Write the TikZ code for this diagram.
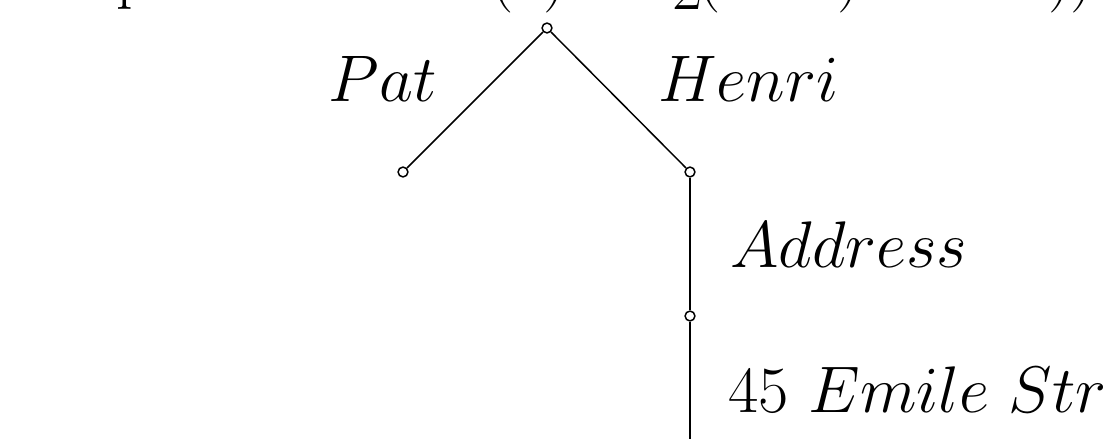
\RequirePackage{fix-cm}
\documentclass[tikz,border=0pt]{standalone}
\begin{document}
\begin{tikzpicture}[x=0.02cm,y=-0.02cm,
    vertex/.style={circle,draw,fill=white,inner sep=0pt,minimum size=5.6pt,line width=0.85pt},
    lbl/.style={inner sep=0pt,font=\fontsize{37.5}{45}\selectfont}]
  \useasboundingbox (0,0) rectangle (1103,439);
  % cut-off line above the tree
  \foreach \x/\b/\t in {116/-3/p, 490/-3.5/{(}, 543/-3.5/{)}, 672/10/2, 697/-3.5/{(}, 837/-3.5/{)}, 1048/-3.5/{)}, 1070/-3.5/{)}}
    \node[lbl,anchor=base west] at (\x,\b) {\t};
  % tree
  \node[vertex] (root) at (547,28) {};
  \node[vertex] (pat) at (403,172) {};
  \node[vertex] (henri) at (690,172) {};
  \node[vertex] (addr) at (690,316) {};
  \coordinate (street) at (690,470);
  \draw[line width=0.85pt] (root) -- (pat);
  \draw[line width=0.85pt] (root) -- (henri);
  \draw[line width=0.85pt] (henri) -- (addr);
  \draw[line width=0.85pt] (addr) -- (street);
  % labels
  \node[lbl,anchor=base east] (patlbl) at (437,102) {$Pat$};
  \node[lbl,anchor=base west] (henrilbl) at (658,102) {$Henri$};
  \node[lbl,anchor=base west] (addrlbl) at (730,267) {$Address$};
  \node[lbl,anchor=base west] (streetlbl) at (728,412) {$45\ Emile\ Str$};
\end{tikzpicture}
\end{document}
